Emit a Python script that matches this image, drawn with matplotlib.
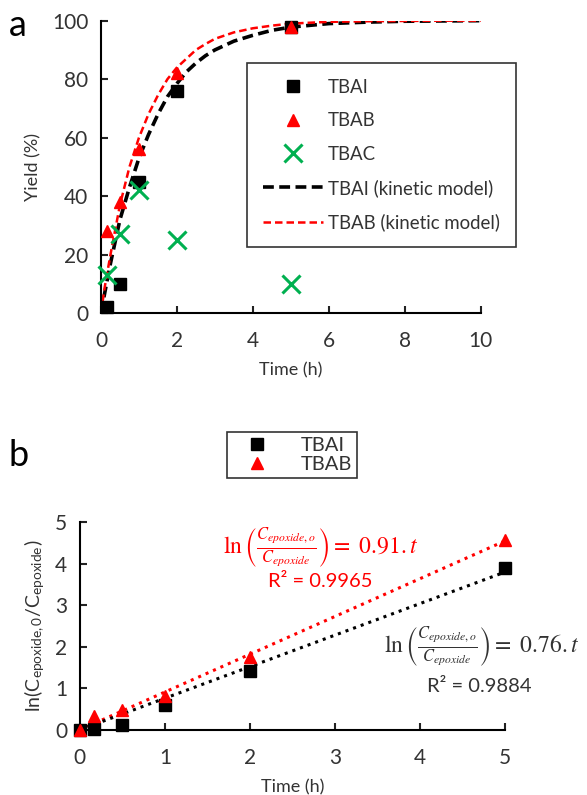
import numpy as np
import matplotlib
matplotlib.use("Agg")
import matplotlib.pyplot as plt

plt.rcParams['font.family'] = ['Lato', 'DejaVu Sans']
plt.rcParams['mathtext.fontset'] = 'stix'

# panel a: yield vs time
t_pts = [0.17, 0.5, 1, 2, 5]
tbai_yield = [2, 10, 45, 76, 98]
tbab_yield = [28, 38, 56, 82, 98]
tbac_yield = [13, 27, 42, 25, 10]

# kinetic model curves
t_model = [0, 0.1, 0.25, 0.5, 0.75, 1, 1.25, 1.5, 1.75, 2, 2.25, 2.5, 2.75, 3, 3.5,
           4, 4.5, 5, 6, 7, 8, 9, 10]
tbai_model = [0, 7, 17, 32, 43, 53, 61, 68, 74, 78.5, 82.5, 85.5, 88, 90, 93,
              95, 96.7, 97.8, 99, 99.5, 99.8, 99.9, 100]
tbab_model = [0, 9, 20, 37, 50, 60, 68, 74.5, 80, 84, 87, 90, 92, 93.8, 96,
              97.4, 98.3, 99, 99.6, 99.8, 99.9, 100, 100]

# panel b: ln(C0/C) vs time
t_ln = [0, 0.17, 0.5, 1, 2, 5]
tbai_ln = [0, 0.02, 0.12, 0.6, 1.42, 3.9]
tbab_ln = [0, 0.33, 0.48, 0.82, 1.76, 4.57]
slope_tbai = 0.76
slope_tbab = 0.91
r2_tbai = 0.9884
r2_tbab = 0.9965
t_fit = np.array([0, 5])

RED = '#FF0000'
GREEN = '#00B050'
TXT = '#333333'

fig = plt.figure(figsize=(5.87, 7.95), dpi=100)

def style(ax):
    for s in ['top', 'right']:
        ax.spines[s].set_visible(False)
    for s in ['left', 'bottom']:
        ax.spines[s].set_linewidth(1.5)
    ax.tick_params(direction='in', length=5, width=1.5, labelsize=15, colors='#222222', labelcolor=TXT)
    ax.tick_params(axis='x', pad=13)
    ax.tick_params(axis='y', pad=9)

# ---- panel a
ax1 = fig.add_axes([0.172, 0.606, 0.647, 0.368])
ax1.plot(t_pts, tbai_yield, 's', color='black', ms=8, label='TBAI', clip_on=False, zorder=3)
ax1.plot(t_pts, tbab_yield, '^', color=RED, ms=8, label='TBAB', clip_on=False, zorder=3)
ax1.plot(t_pts, tbac_yield, 'x', color=GREEN, ms=13, mew=2.2, label='TBAC', clip_on=False, zorder=3)
ax1.plot(t_model, tbai_model, '--', color='black', lw=2.6, dashes=(3, 1.5), label='TBAI (kinetic model)')
ax1.plot(t_model, tbab_model, '--', color=RED, lw=1.8, dashes=(3, 1.6), label='TBAB (kinetic model)')
ax1.set_xlim(0, 10)
ax1.set_ylim(0, 100)
ax1.set_xticks(range(0, 11, 2))
ax1.set_yticks(range(0, 101, 20))
style(ax1)
ax1.set_xlabel('Time (h)', fontsize=13, color=TXT, labelpad=8)
ax1.set_ylabel('Yield (%)', fontsize=13, color=TXT, labelpad=8)
leg1 = ax1.legend(loc='upper left', bbox_to_anchor=(0.385, 0.855), fontsize=13.4,
                  frameon=True, fancybox=False, edgecolor='black', handlelength=3.2,
                  handletextpad=0.3, labelspacing=0.88, borderpad=0.85, borderaxespad=0)
leg1.get_frame().set_linewidth(1.2)
for txt in leg1.get_texts():
    txt.set_color(TXT)
fig.text(0.015, 0.968, 'a', fontsize=26, va='center')

# ---- panel b
ax2 = fig.add_axes([0.136, 0.082, 0.724, 0.261])
ax2.plot(t_fit, slope_tbab * t_fit, ':', color=RED, lw=2.2)
ax2.plot(t_fit, slope_tbai * t_fit, ':', color='black', lw=2.2)
h1, = ax2.plot(t_ln, tbai_ln, 's', color='black', ms=8, clip_on=False, zorder=3)
h2, = ax2.plot(t_ln, tbab_ln, '^', color=RED, ms=9, clip_on=False, zorder=3)
ax2.set_xlim(0, 5)
ax2.set_ylim(0, 5)
ax2.set_xticks(range(0, 6))
ax2.set_yticks(range(0, 6))
style(ax2)
ax2.set_xlabel('Time (h)', fontsize=13, color=TXT, labelpad=8)
ax2.set_ylabel(r'ln(C$_{\mathregular{epoxide,0}}$/C$_{\mathregular{epoxide}}$)', fontsize=14,
               color=TXT, labelpad=6)
leg2 = fig.legend([h1, h2], ['TBAI', 'TBAB'], loc='center', bbox_to_anchor=(0.497, 0.428),
                  fontsize=14.5, frameon=True, fancybox=False, edgecolor='black',
                  handlelength=2.5, handletextpad=0.9, labelspacing=0.1, borderpad=0.25,
                  borderaxespad=0)
leg2.get_frame().set_linewidth(1.2)
for txt in leg2.get_texts():
    txt.set_color(TXT)
fig.text(0.015, 0.427, 'b', fontsize=26, va='center')

eq_red = r'$\ln\left(\frac{C_{epoxide,o}}{C_{epoxide}}\right) = \ 0.91.t$'
eq_blk = r'$\ln\left(\frac{C_{epoxide,o}}{C_{epoxide}}\right) = \ 0.76.t$'
fig.text(0.547, 0.311, eq_red, color=RED, fontsize=17, ha='center', va='center')
fig.text(0.545, 0.268, 'R² = %.4f' % r2_tbab, color=RED, fontsize=14.5, ha='center', va='center')
fig.text(0.820, 0.186, eq_blk, color=TXT, fontsize=17, ha='center', va='center')
fig.text(0.817, 0.136, 'R² = %.4f' % r2_tbai, color=TXT, fontsize=14.5, ha='center', va='center')

fig.savefig('out.png', dpi=100)
